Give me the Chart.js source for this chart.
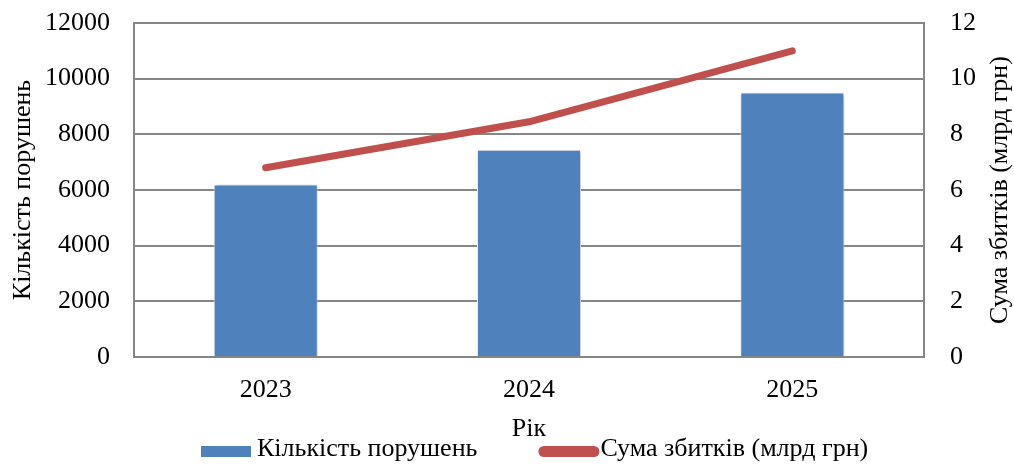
<!DOCTYPE html>
<html>
<head>
<meta charset="utf-8">
<script src="https://cdn.jsdelivr.net/npm/chart.js@4"></script>
<style>
  html, body { margin: 0; padding: 0; background: #fff; }
  #wrap { width: 1014px; height: 467px; }
</style>
</head>
<body>
<div id="wrap"><canvas id="myChart" width="1014" height="467"></canvas></div>
<script>
var years = ['2023', '2024', '2025'];
var violations = [6200, 7450, 9500];
var losses = [6.8, 8.45, 11.0];
var leftTicks = [0, 2000, 4000, 6000, 8000, 10000, 12000];
var rightTicks = [0, 2, 4, 6, 8, 10, 12];

var serif = "'Liberation Serif', 'Times New Roman', serif";
var gridColor = '#868686';
var fontSize = 26;
var font = fontSize + 'px ' + serif;

// right axis title reads bottom-to-top like the left one
var rightTitle = {
  id: 'rightTitle',
  afterDraw: function(chart) {
    var ctx = chart.ctx;
    var area = chart.chartArea;
    ctx.save();
    ctx.translate(1000, (area.top + area.bottom) / 2);
    ctx.rotate(-Math.PI / 2);
    ctx.font = font;
    ctx.fillStyle = '#000';
    ctx.textAlign = 'center';
    ctx.textBaseline = 'middle';
    ctx.fillText('Сума збитків (млрд грн)', 0, 0);
    ctx.restore();
  }
};

// legend row at the bottom (the built-in one can't do the wide gap between items)
var bottomLegend = {
  id: 'bottomLegend',
  afterDraw: function(chart) {
    var ctx = chart.ctx;
    var ds = chart.data.datasets;
    var x = 201, baseline = 456;
    ctx.save();
    ctx.font = font;
    ctx.textBaseline = 'alphabetic';
    ctx.textAlign = 'left';

    ctx.fillStyle = ds[0].backgroundColor;
    ctx.fillRect(x, 446, 50, 11);
    ctx.fillStyle = '#000';
    ctx.fillText(ds[0].label, x + 56, baseline);
    x = x + 56 + ctx.measureText(ds[0].label).width + 61;

    ctx.fillStyle = ds[1].borderColor;
    ctx.beginPath();
    ctx.roundRect(x, 446, 61, 11, 5.5);
    ctx.fill();
    ctx.fillStyle = '#000';
    ctx.fillText(ds[1].label, x + 62, baseline);
    ctx.restore();
  }
};

// soft shadow behind the bars
var barShadow = {
  id: 'barShadow',
  beforeDatasetDraw: function(chart, args) {
    if (args.index !== 0) return;
    chart.ctx.save();
    chart.ctx.shadowColor = 'rgba(0,0,0,0.3)';
    chart.ctx.shadowBlur = 4;
    chart.ctx.shadowOffsetX = 1;
    chart.ctx.shadowOffsetY = 1;
  },
  afterDatasetDraw: function(chart, args) {
    if (args.index !== 0) return;
    chart.ctx.restore();
  }
};

new Chart('myChart', {
  type: 'bar',
  data: {
    labels: years,
    datasets: [{
      label: 'Кількість порушень',
      data: violations,
      backgroundColor: '#4F81BD',
      borderColor: '#ffffff',
      borderWidth: 1,
      categoryPercentage: 1,
      barPercentage: 0.395,
      yAxisID: 'y'
    }, {
      type: 'line',
      label: 'Сума збитків (млрд грн)',
      data: losses,
      borderColor: '#C0504D',
      backgroundColor: '#C0504D',
      borderWidth: 7,
      borderCapStyle: 'round',
      borderJoinStyle: 'round',
      pointRadius: 0,
      tension: 0,
      yAxisID: 'y1'
    }]
  },
  options: {
    responsive: false,
    animation: false,
    layout: { padding: { top: 23, left: 0, right: 0, bottom: 0 } },
    scales: {
      x: {
        grid: { display: false },
        border: { color: gridColor, width: 2 },
        ticks: { color: '#000', font: { family: serif, size: fontSize }, padding: 10 },
        title: { display: true, text: 'Рік', color: '#000', font: { family: serif, size: fontSize }, padding: { top: 0, bottom: 22 } },
        afterFit: function(s) { s.height = 110; }
      },
      y: {
        position: 'left',
        min: 0, max: 12000,
        afterBuildTicks: function(s) { s.ticks = leftTicks.map(function(v) { return { value: v }; }); },
        // invisible tick marks give the label gap without padding the top
        grid: { color: gridColor, lineWidth: 2, drawTicks: true, tickLength: 24, tickColor: 'rgba(0,0,0,0)' },
        border: { color: gridColor, width: 2 },
        ticks: { color: '#000', font: { family: serif, size: fontSize }, padding: 0, callback: function(v) { return String(v); } },
        title: { display: true, text: 'Кількість порушень', color: '#000', font: { family: serif, size: fontSize }, padding: { top: 8, bottom: 0 } },
        afterFit: function(s) { s.width = 134; }
      },
      y1: {
        position: 'right',
        min: 0, max: 12,
        afterBuildTicks: function(s) { s.ticks = rightTicks.map(function(v) { return { value: v }; }); },
        grid: { display: false, tickLength: 26 },
        border: { color: gridColor, width: 2 },
        ticks: { color: '#000', font: { family: serif, size: fontSize }, padding: 0, callback: function(v) { return String(v); } },
        afterFit: function(s) { s.width = 90; }
      }
    },
    plugins: {
      tooltip: { enabled: false },
      legend: { display: false }
    }
  },
  plugins: [rightTitle, bottomLegend, barShadow]
});
</script>
</body>
</html>
